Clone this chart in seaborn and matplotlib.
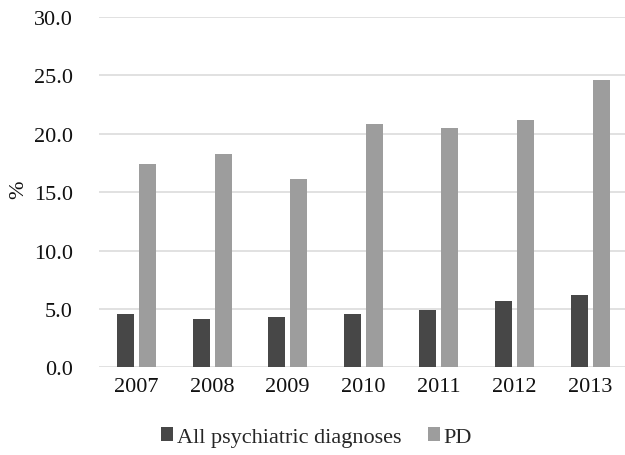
import matplotlib
matplotlib.use("Agg")
import matplotlib.pyplot as plt
from matplotlib.patches import Patch
import seaborn as sns
import pandas as pd

years = ["2007", "2008", "2009", "2010", "2011", "2012", "2013"]
all_diag = [4.6, 4.1, 4.3, 4.6, 4.9, 5.7, 6.2]
pd_share = [17.4, 18.3, 16.1, 20.8, 20.5, 21.2, 24.6]
series_names = ["All psychiatric diagnoses", "PD"]
colors = ["#474747", "#9d9d9d"]

df = pd.DataFrame({
    "year": years * 2,
    "group": [series_names[0]] * len(years) + [series_names[1]] * len(years),
    "value": all_diag + pd_share,
})

sns.set_theme(style="white")
plt.rcParams["font.family"] = ["Liberation Serif", "DejaVu Serif"]

fig = plt.figure(figsize=(6.25, 4.56), dpi=100)
ax = fig.add_axes([99 / 625, 1 - 368.3 / 456, 1 - 99 / 625, (368.3 - 18) / 456])

sns.barplot(data=df, x="year", y="value", hue="group", palette=colors,
            width=0.582, gap=0.227, linewidth=0, saturation=1,
            legend=False, ax=ax)

ax.set_ylim(0, 30)
ax.set_xlim(-0.496, 6.46)
ax.set_yticks([0, 5, 10, 15, 20, 25, 30])
ax.set_yticklabels([f"{v:.1f}" for v in [0, 5, 10, 15, 20, 25, 30]])
ax.yaxis.grid(True, color="#d9d9d9", linewidth=1.1)
ax.set_axisbelow(True)
for s in ["top", "right", "left", "bottom"]:
    ax.spines[s].set_visible(False)
ax.tick_params(axis="both", length=0, labelsize=16, colors="#111111")
ax.tick_params(axis="y", pad=19)
ax.tick_params(axis="x", pad=7)
ax.set_xlabel("")
ax.set_ylabel("")
fig.text(19 / 625, 1 - 190 / 456, "%", rotation=90, ha="center", va="center",
         fontsize=16, color="#111111")

handles = [Patch(facecolor=c, edgecolor="none", label=n) for c, n in zip(colors, series_names)]
fig.legend(handles=handles, loc="center", bbox_to_anchor=(0.5 + 4 / 625, 1 - 438 / 456), ncol=2,
           frameon=False, fontsize=16, handlelength=0.55, handleheight=0.55,
           handletextpad=0.15, columnspacing=1.2)

fig.savefig("out.png", dpi=100)
